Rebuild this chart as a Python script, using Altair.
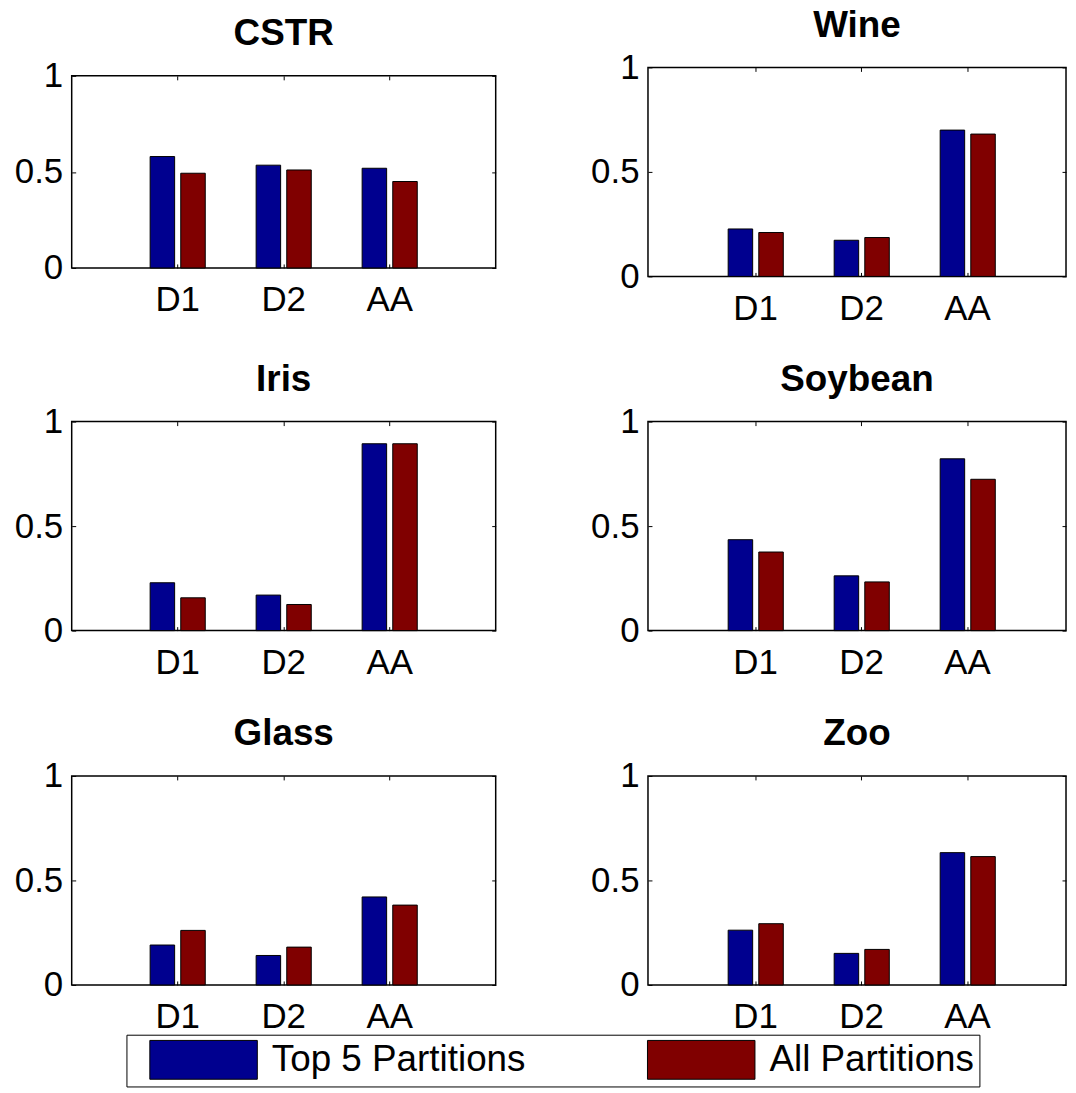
import altair as alt
import pandas as pd

datasets = ["CSTR", "Wine", "Iris", "Soybean", "Glass", "Zoo"]
methods = ["D1", "D2", "AA"]
series = ["Top 5 Partitions", "All Partitions"]
colors = ["#00008F", "#800000"]

top5_cstr = [0.580, 0.535, 0.519]
all_cstr = [0.493, 0.510, 0.450]
top5_wine = [0.227, 0.173, 0.700]
all_wine = [0.210, 0.186, 0.681]
top5_iris = [0.229, 0.170, 0.894]
all_iris = [0.157, 0.125, 0.894]
top5_soybean = [0.435, 0.262, 0.822]
all_soybean = [0.376, 0.233, 0.724]
top5_glass = [0.191, 0.141, 0.421]
all_glass = [0.261, 0.181, 0.382]
top5_zoo = [0.262, 0.151, 0.633]
all_zoo = [0.293, 0.170, 0.614]

values = {
    "CSTR": (top5_cstr, all_cstr),
    "Wine": (top5_wine, all_wine),
    "Iris": (top5_iris, all_iris),
    "Soybean": (top5_soybean, all_soybean),
    "Glass": (top5_glass, all_glass),
    "Zoo": (top5_zoo, all_zoo),
}

rows = []
for name in datasets:
    t5, al = values[name]
    for m, a, b in zip(methods, t5, al):
        rows.append({"dataset": name, "method": m, "series": series[0], "value": a})
        rows.append({"dataset": name, "method": m, "series": series[1], "value": b})
df = pd.DataFrame(rows)

FONT = "Liberation Sans"

legend = alt.Legend(
    title=None, orient="none", legendX=55, legendY=972,
    direction="horizontal", columns=2, gridAlign="all",
    symbolType="M-1,-1 L4.538,-1 L4.538,1 L-1,1 Z", symbolSize=1521,
    symbolStrokeColor="black", symbolStrokeWidth=1, symbolOpacity=1,
    labelFont=FONT, labelFontSize=37, labelColor="black", labelOffset=83,
    labelLimit=0, strokeColor="black", fillColor="white", padding=5,
    symbolOffset=18, columnPadding=103,
)


def panel(name, h, w, right_col):
    d = df[df.dataset == name]
    base = alt.Chart(d)
    if right_col:
        xscale = alt.Scale(paddingInner=0.4836, paddingOuter=0.7136, align=0.53)
    else:
        xscale = alt.Scale(paddingInner=0.48, paddingOuter=0.74)
    bars = base.mark_bar(stroke="black", strokeWidth=1, opacity=1).encode(
        x=alt.X("method:N", sort=methods, scale=xscale,
                axis=alt.Axis(orient="bottom", title=None, labelAngle=0, offset=-4,
                              tickSize=4, domain=False, labelPadding=15, grid=False,
                              tickColor="black", labelColor="black",
                              labelFont=FONT, labelFontSize=35)),
        xOffset=alt.XOffset("series:N", sort=series,
                            scale=alt.Scale(paddingInner=0.2, paddingOuter=0)),
        y=alt.Y("value:Q", scale=alt.Scale(domain=[0, 1]), stack=None,
                axis=alt.Axis(values=[0, 0.5, 1], format="~g", offset=-4, tickSize=4,
                              labelPadding=9, domain=False, grid=False, title=None,
                              tickColor="black", labelColor="black",
                              labelFont=FONT, labelFontSize=35)),
        color=alt.Color("series:N", sort=series,
                        scale=alt.Scale(domain=series, range=colors), legend=legend),
    )
    ghost = base.mark_point(opacity=0).encode(
        x=alt.X("method:N", sort=methods,
                axis=alt.Axis(orient="top", title=None, labels=False, offset=-4,
                              tickSize=4, domain=False, grid=False, tickColor="black")),
        y=alt.Y("value:Q", stack=None,
                axis=alt.Axis(orient="right", title=None, labels=False, values=[0, 0.5, 1],
                              offset=-4, tickSize=4, domain=False, grid=False,
                              tickColor="black")),
    )
    return alt.layer(bars, ghost).resolve_axis(x="independent", y="independent").properties(
        width=w, height=h,
        title=alt.Title(name, font=FONT, fontSize=37, fontWeight="bold", color="black",
                        anchor="middle", frame="group", offset=6),
    )


WL, WR, SP = 426, 420, 92
row1 = alt.hconcat(panel("CSTR", 193, WL, False), panel("Wine", 210, WR, True),
                   spacing=SP, center=True)
row2 = alt.hconcat(panel("Iris", 210, WL, False), panel("Soybean", 210, WR, True), spacing=SP)
row3 = alt.hconcat(panel("Glass", 210, WL, False), panel("Zoo", 210, WR, True), spacing=SP)

chart = alt.vconcat(row1, row2, row3, spacing=33).properties(
    padding={"left": 5, "top": -5, "right": 0, "bottom": 0}
).configure(background="white").configure_view(stroke="black", strokeWidth=1.5)

chart.save("out.html", embed_options={"renderer": "svg", "actions": False})
